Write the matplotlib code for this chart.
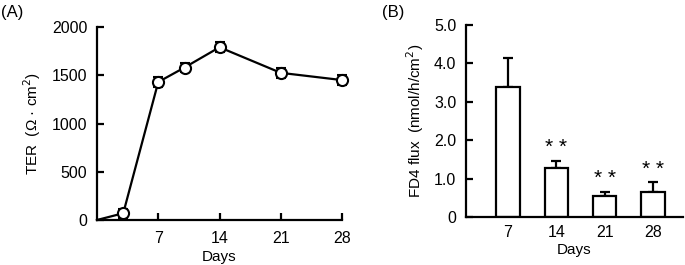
import matplotlib
matplotlib.use("Agg")
import matplotlib.pyplot as plt

plt.rcParams['font.family'] = ['Liberation Sans', 'DejaVu Sans']
plt.rcParams['font.size'] = 11

# panel A: TER time course
ter_days = [0, 3, 7, 10, 14, 21, 28]
ter_vals = [0, 70, 1430, 1580, 1790, 1525, 1450]
ter_err = [0, 45, 50, 50, 50, 50, 50]

# panel B: FD4 flux
flux_labels = ['7', '14', '21', '28']
flux_vals = [3.38, 1.28, 0.55, 0.65]
flux_err = [0.75, 0.17, 0.10, 0.25]
flux_sig = ['', '* *', '* *', '* *']

fig = plt.figure(figsize=(6.85, 2.65), dpi=100)

lw = 1.6
tfs = 11.5   # tick labels
lfs = 11     # axis labels

# ---- (A)
ax = fig.add_axes([97 / 685, 1 - 220 / 265, 245 / 685, 193 / 265])
ax.plot(ter_days, ter_vals, color='black', lw=lw, zorder=2, clip_on=False)
ax.errorbar(ter_days[1:], ter_vals[1:], yerr=ter_err[1:], fmt='o', color='black',
            mfc='white', mec='black', mew=1.5, ms=8, capsize=3.5, capthick=1.6,
            elinewidth=1.6, zorder=3, clip_on=False)
ax.set_xlim(0, 28)
ax.set_ylim(0, 2000)
ax.set_xticks([7, 14, 21, 28])
ax.set_yticks([0, 500, 1000, 1500, 2000])
ax.spines['top'].set_visible(False)
ax.spines['right'].set_visible(False)
for s in ('left', 'bottom'):
    ax.spines[s].set_linewidth(lw)
ax.tick_params(direction='in', length=5, width=lw, labelsize=tfs)
ax.tick_params(axis='y', pad=7)
ax.tick_params(axis='x', pad=8)
ax.set_xlabel('Days', fontsize=lfs, labelpad=3)
ax.set_ylabel('TER  (\u03a9 \u00b7 cm$^2$)', fontsize=lfs, labelpad=6)
fig.text(1 / 685, 1 - 13 / 265, '(A)', fontsize=12, va='center', ha='left')

# ---- (B)
bx = fig.add_axes([466 / 685, 1 - 217 / 265, 217 / 685, 192 / 265])
pos = list(range(len(flux_vals)))
bx.bar(pos, flux_vals, width=0.48, color='white', edgecolor='black', lw=lw, zorder=2)
bx.errorbar(pos, flux_vals, yerr=[[0] * len(flux_err), flux_err], fmt='none',
            ecolor='black', elinewidth=lw, capsize=3.5, capthick=1.6, zorder=1)
for p, v, e, s in zip(pos, flux_vals, flux_err, flux_sig):
    if s:
        bx.text(p, v + e + 0.1, s, ha='center', va='bottom', fontsize=15)
bx.set_xlim(-0.87, 3.62)
bx.set_ylim(0, 5.0)
bx.set_xticks(pos)
bx.set_xticklabels(flux_labels)
bx.set_yticks([0, 1, 2, 3, 4, 5])
bx.set_yticklabels(['0', '1.0', '2.0', '3.0', '4.0', '5.0'])
bx.spines['top'].set_visible(False)
bx.spines['right'].set_visible(False)
for s in ('left', 'bottom'):
    bx.spines[s].set_linewidth(lw)
bx.tick_params(axis='y', direction='in', length=5, width=lw, labelsize=tfs, pad=7)
bx.tick_params(axis='x', length=0, labelsize=tfs, pad=6)
bx.set_xlabel('Days', fontsize=lfs, labelpad=2)
bx.set_ylabel('FD4 flux  (nmol/h/cm$^2$)', fontsize=lfs, labelpad=6)
fig.text(382 / 685, 1 - 13 / 265, '(B)', fontsize=12, va='center', ha='left')

fig.savefig('out.png', dpi=100)
